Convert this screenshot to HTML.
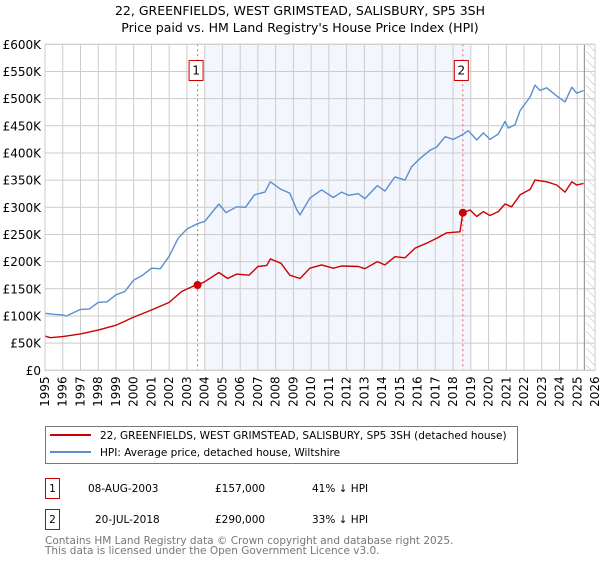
<!DOCTYPE html>
<html><head><meta charset="utf-8"><style>
body{margin:0;background:#fff;font-family:"DejaVu Sans","Liberation Sans",sans-serif;}
svg text{font-family:"DejaVu Sans","Liberation Sans",sans-serif;}
</style></head><body>
<svg id="c" width="600" height="560" xmlns="http://www.w3.org/2000/svg">
<defs><pattern id="hatch" width="6" height="6" patternUnits="userSpaceOnUse" patternTransform="rotate(-45)"><line x1="0" y1="0" x2="0" y2="6" stroke="#bbb" stroke-width="1"/></pattern></defs>
<text x="300" y="15" text-anchor="middle" font-size="12.5">22, GREENFIELDS, WEST GRIMSTEAD, SALISBURY, SP5 3SH</text>
<text x="300" y="32" text-anchor="middle" font-size="12.5">Price paid vs. HM Land Registry's House Price Index (HPI)</text>
<g id="plot"></g>
<g>
<rect x="45.5" y="426.5" width="472" height="37" fill="#fff" stroke="#777"/>
<line x1="50" y1="435" x2="91" y2="435" stroke="#cc0000" stroke-width="2"/>
<text x="100" y="439" font-size="10.5">22, GREENFIELDS, WEST GRIMSTEAD, SALISBURY, SP5 3SH (detached house)</text>
<line x1="50" y1="452" x2="91" y2="452" stroke="#5b8fd0" stroke-width="2"/>
<text x="100" y="456" font-size="10.5">HPI: Average price, detached house, Wiltshire</text>
</g>
<g font-size="10.5">
<rect x="45.5" y="478.5" width="14" height="20" fill="#fff" stroke="#cc0000"/><text x="52.5" y="492" text-anchor="middle">1</text>
<text x="88" y="492">08-AUG-2003</text><text x="215" y="492">£157,000</text><text x="312" y="492">41% ↓ HPI</text>
<rect x="45.5" y="509.5" width="14" height="20" fill="#fff" stroke="#cc0000"/><text x="52.5" y="523" text-anchor="middle">2</text>
<text x="95" y="523">20-JUL-2018</text><text x="215" y="523">£290,000</text><text x="312" y="523">33% ↓ HPI</text>
</g>
<text x="45" y="544" font-size="10.5" fill="#777">Contains HM Land Registry data © Crown copyright and database right 2025.</text>
<text x="45" y="554" font-size="10.5" fill="#777">This data is licensed under the Open Government Licence v3.0.</text>
</svg>
<script>
const hpiYears=[1995,1995.5,1996,1996.2,1997,1997.5,1998,1998.5,1999,1999.5,2000,2000.5,2001,2001.5,2002,2002.5,2003,2003.6,2004,2004.8,2005.2,2005.8,2006.3,2006.8,2007.4,2007.7,2008.3,2008.8,2009.2,2009.37,2009.93,2010.59,2011.25,2011.72,2012.1,2012.66,2013.03,2013.73,2014.16,2014.73,2015.29,2015.67,2016.14,2016.7,2017.08,2017.55,2018.02,2018.49,2018.86,2019.33,2019.71,2020.08,2020.55,2020.93,2021.12,2021.49,2021.78,2022.34,2022.62,2022.9,2023.28,2023.84,2024.31,2024.69,2024.97,2025.35];
const hpiValues=[105,103,102,100,112,113,125,126,139,145,166,175,188,187,210,243,260,270,274,306,290,301,300,323,328,347,333,326,295,286,317,332,318,328,322,325,316,340,330,356,350,375,390,405,411,430,425,433,441,424,437,425,435,458,446,452,478,503,525,515,520,505,494,521,510,515];
const ppYears=[1995,1995.3,1996,1997,1998,1999,2000,2001,2002,2002.7,2003.3,2003.6,2004,2004.8,2005.3,2005.8,2006.5,2007,2007.5,2007.7,2008.3,2008.8,2009.37,2009.93,2010.59,2011.25,2011.72,2012.66,2013.03,2013.73,2014.16,2014.73,2015.29,2015.86,2016.51,2017.08,2017.64,2018.39,2018.55,2018.96,2019.33,2019.71,2020.08,2020.55,2020.93,2021.3,2021.78,2022.34,2022.62,2023.28,2023.84,2024.31,2024.69,2024.97,2025.35];
const ppValues=[63,60,62,67,74,83,98,111,125,145,154,157,163,180,169,177,175,191,193,205,197,175,169,188,194,188,192,191,187,200,194,209,207,225,234,243,253,255,290,295,283,292,285,292,306,301,323,333,350,347,341,328,347,341,344];
const sales=[{n:'1',y:2003.6,v:157},{n:'2',y:2018.55,v:290}];
const yTicks=[0,50,100,150,200,250,300,350,400,450,500,550,600];
const yLabels=['£0','£50K','£100K','£150K','£200K','£250K','£300K','£350K','£400K','£450K','£500K','£550K','£600K'];
const xTicks=[];for(let y=1995;y<=2026;y++)xTicks.push(y);
const X0=45,X1=595,Y0=370.3,Y1=44.3;
const xs=y=>X0+(y-1995)/(2026-1995)*(X1-X0);
const ys=v=>Y0-v/600*(Y0-Y1);
const NS='http://www.w3.org/2000/svg';
const g=document.getElementById('plot');
function mk(t,a,p){const e=document.createElementNS(NS,t);for(const k in a)e.setAttribute(k,a[k]);(p||g).appendChild(e);return e;}
let e;
e=mk('rect',{x:xs(2004),y:Y1,width:xs(2019)-xs(2004),height:Y0-Y1,fill:'#f3f6fd'});


e=mk('rect',{x:xs(2025.5),y:Y1,width:X1-xs(2025.5),height:Y0-Y1,fill:'url(#hatch)'});


xTicks.forEach(y=>{
 e=mk('line',{x1:xs(y),x2:xs(y),y1:Y1,y2:Y0,stroke:'#ccc','stroke-width':1});
 
 
 e=mk('text',{x:0,y:0,'font-size':12,'text-anchor':'end',transform:`translate(${xs(y)+4},${Y0+6}) rotate(-90)`});
 e.textContent=y;
 
 
});
yTicks.forEach((v,i)=>{
 e=mk('line',{x1:X0,x2:X1,y1:ys(v),y2:ys(v),stroke:'#ccc','stroke-width':1});
 
 
 e=mk('text',{x:X0-4,y:ys(v)+4.5,'font-size':12,'text-anchor':'end'});
 e.textContent=yLabels[i];
 
 
});
e=mk('line',{x1:xs(2025.4),x2:xs(2025.4),y1:Y1,y2:Y0,stroke:'#888','stroke-width':1});


sales.forEach(s=>{
 e=mk('line',{x1:xs(s.y),x2:xs(s.y),y1:Y1,y2:Y0,stroke:'#e06060','stroke-width':1,'stroke-dasharray':'2,3'});
 
 
});
function path(xa,va,col,name){
 const d=xa.map((x,i)=>(i?'L':'M')+xs(x).toFixed(1)+','+ys(va[i]).toFixed(1)).join('');
 e=mk('path',{d:d,fill:'none',stroke:col,'stroke-width':1.4,'stroke-linejoin':'round'});
 
 
}
path(hpiYears,hpiValues,'#5b8fd0','hpi-line');
path(ppYears,ppValues,'#cc0000','price-paid-line');
sales.forEach(s=>{
 e=mk('circle',{cx:xs(s.y),cy:ys(s.v),r:4,fill:'#cc0000'});
 
 
 e=mk('rect',{x:xs(s.y)-8.5,y:60.5,width:14,height:20,fill:'#fff',stroke:'#cc0000'});
 
 
 e=mk('text',{x:xs(s.y)-1.5,y:74.5,'font-size':12,'text-anchor':'middle'});
 e.textContent=s.n;
 
 
});
e=mk('rect',{x:X0,y:Y1,width:X1-X0,height:Y0-Y1,fill:'none',stroke:'#ccc'});


</script>
</body></html>
